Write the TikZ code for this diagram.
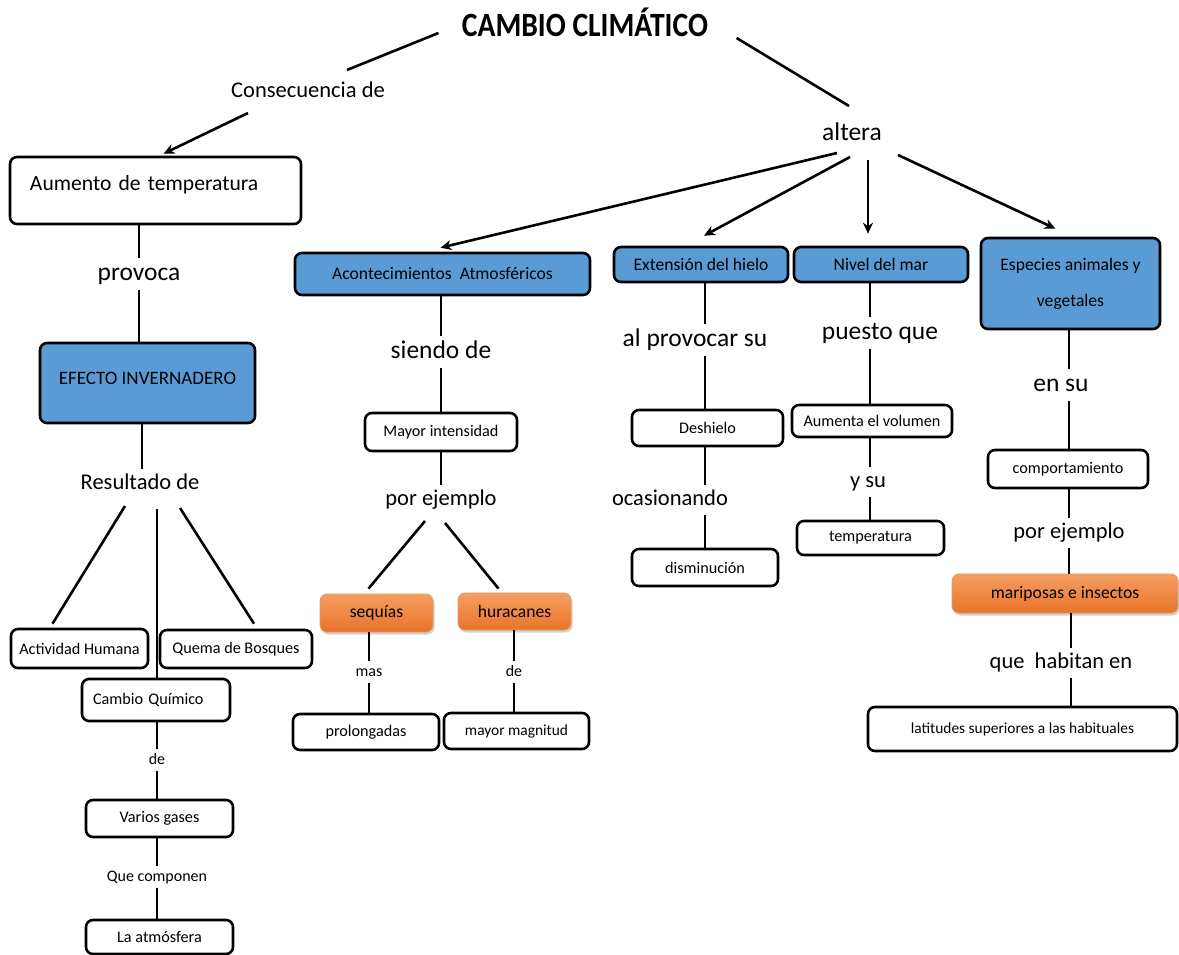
\documentclass[tikz,border=0pt]{standalone}
\usepackage{fontspec}
\setmainfont{Carlito}
\newfontfamily\titlefont{Carlito}[FakeStretch=0.87]
\usetikzlibrary{calc,shadows,arrows.meta}
\newcommand\fsz[1]{\fontsize{#1}{\dimexpr#1pt*6/5\relax}\selectfont}
\definecolor{cblue}{RGB}{91,155,213}
\definecolor{corT}{RGB}{245,158,98}
\definecolor{corB}{RGB}{232,116,40}
\definecolor{corL}{RGB}{240,150,95}
\tikzset{
  edge/.style={line width=2.6pt},
  arr/.style={edge, -{Stealth[length=11pt,width=10pt]}},
  wbox/.style={draw, line width=2.6pt, rounded corners=7pt, fill=white,
    inner sep=0pt, align=center, font=\fsz{16.2}},
  bbox/.style={wbox, fill=cblue, font=\fsz{17.6}},
  obox/.style={rounded corners=7pt, draw=corL, line width=0.8pt,
    top color=corT, bottom color=corB, inner sep=0pt, font=\fsz{17.6},
    drop shadow={shadow xshift=1.5pt, shadow yshift=-2.5pt, opacity=0.35}},
  lblA/.style={inner sep=4pt, text height=18.4pt, text depth=5.6pt, font=\fsz{25.5}},
  lblB/.style={inner sep=4pt, text height=16.2pt, text depth=5pt, font=\fsz{22.5}},
  lblC/.style={inner sep=3pt, text height=11.5pt, text depth=3.5pt, font=\fsz{16}},
}
\begin{document}
\begin{tikzpicture}[x=1pt, y=-1pt]
\useasboundingbox[fill=white] (0,0) rectangle (1179,955);

% ---- top ----
\node[font=\titlefont\bfseries\fsz{34}] (title) at (585,22) {CAMBIO CLIMÁTICO};
\node[lblB] (cons) at (308,92) {Consecuencia de};
\node[lblA] (alt) at (852,134) {altera};

% ---- left column: greenhouse effect ----
\node[wbox, font=\fsz{21.6}, minimum width=291pt, minimum height=67pt,
  text width=251pt, align=left, text depth=14pt] (aum) at (155.5,190.5) {Aumento de temperatura};
\node[lblA] (provoca) at (139,274) {provoca};
\node[bbox, font=\fsz{19}, minimum width=215pt, minimum height=80pt, text depth=10pt] (efe) at (147.5,383) {EFECTO INVERNADERO};
\node[lblB] (res) at (140,484) {Resultado de};
\node[wbox, minimum width=137pt, minimum height=39pt] (act) at (79.5,648.5) {Actividad Humana};
\node[wbox, minimum width=152pt, minimum height=38pt] (que) at (236,649) {Quema de Bosques};
\node[wbox, minimum width=148pt, minimum height=42pt, text width=126pt, align=left] (cq) at (156,700) {Cambio Químico};
\node[lblC] (de1) at (157,760) {de};
\node[wbox, minimum width=147pt, minimum height=37pt] (vg) at (159.5,818.5) {Varios gases};
\node[lblC] (qc) at (157,877) {Que componen};
\node[wbox, minimum width=147pt, minimum height=34pt] (atm) at (159.5,937) {La atmósfera};

% ---- atmospheric events ----
\node[bbox, minimum width=295pt, minimum height=42pt] (aco) at (442.5,274) {Acontecimientos\ \ Atmosféricos};
\node[lblA] (siendo) at (441,352) {siendo de};
\node[wbox, minimum width=152pt, minimum height=38pt] (may) at (441,432) {Mayor intensidad};
\node[lblB] (porej1) at (441,500) {por ejemplo};
\node[obox, minimum width=113pt, minimum height=38pt] (seq) at (376.5,613) {sequías};
\node[obox, minimum width=113pt, minimum height=37pt] (hur) at (514.5,611.5) {huracanes};
\node[lblC] (mas) at (369,672) {mas};
\node[lblC] (de2) at (514,672) {de};
\node[wbox, minimum width=146pt, minimum height=36pt] (pro) at (366,732) {prolongadas};
\node[wbox, minimum width=145pt, minimum height=36pt, font=\fsz{15.4}] (mag) at (516.5,731) {mayor magnitud};

% ---- ice ----
\node[bbox, minimum width=174pt, minimum height=35pt] (ext) at (701,264.5) {Extensión del hielo};
\node[lblA] (alprov) at (695,340) {al provocar su};
\node[wbox, minimum width=151pt, minimum height=36pt] (des) at (707.5,428) {Deshielo};
\node[lblB] (ocas) at (670,500) {ocasionando};
\node[wbox, minimum width=146pt, minimum height=37pt] (dis) at (705,567.5) {disminución};

% ---- sea level ----
\node[bbox, minimum width=174pt, minimum height=35pt] (niv) at (881,264.5) {Nivel del mar};
\node[lblA] (puesto) at (880,333) {puesto que};
\node[wbox, minimum width=160pt, minimum height=32pt] (vol) at (872,421) {Aumenta el volumen};
\node[lblB] (ysu) at (868,482) {y su};
\node[wbox, minimum width=147pt, minimum height=34pt] (tem) at (870.5,538) {temperatura};

% ---- species ----
\node[bbox, minimum width=179pt, minimum height=91pt] (esp) at (1070.5,283.5) {Especies animales y\\[15pt]vegetales};
\node[lblA] (ensu) at (1061,385) {en su};
\node[wbox, minimum width=160pt, minimum height=38pt] (com) at (1068,469) {comportamiento};
\node[lblB] (porej2) at (1069,533) {por ejemplo};
\node[obox, minimum width=226pt, minimum height=39pt] (mar) at (1065,593.5) {mariposas e insectos};
\node[lblB] (hab) at (1061,663) {que\ \ habitan en};
\node[wbox, minimum width=309pt, minimum height=44pt, font=\fsz{15.4}] (lat) at (1022.5,729) {latitudes superiores a las habituales};

% vertical guide positions of the connector lines
\coordinate (xa) at (139,0);
\coordinate (xr) at (142,0);
\coordinate (xc) at (157,0);
\coordinate (xm) at (441,0);
\coordinate (xs) at (369,0);
\coordinate (xh) at (514,0);
\coordinate (xe) at (705,0);
\coordinate (xn) at (870,0);
\coordinate (xp) at (1069,0);
\coordinate (xq) at (1071,0);

% ---- connectors ----
\draw[edge] ($(title.west)+(-20,11)$) -- ($(cons)+(39,-22)$);
\draw[edge] ($(title.east)+(25,16)$) -- ($(alt)+(-3,-28)$);
\draw[arr] ($(cons)+(-60,21)$) -- ($(aum.north)+(8,-2)$);

\draw[arr] ($(alt)+(-15,19)$) -- ($(aco.north)+(-2,-4)$);
\draw[arr] ($(alt)+(-2,23)$) -- ($(ext.north)+(3,-10)$);
\draw[arr] ($(alt)+(16,26)$) -- ($(niv.north)+(-13,-12)$);
\draw[arr] ($(alt)+(46,21)$) -- ($(esp.north)+(-15,-8)$);

\draw[edge] (aum.south -| xa) -- (provoca.north -| xa);
\draw[edge] (provoca.south -| xa) -- (efe.north -| xa);
\draw[edge] (efe.south -| xr) -- (res.north -| xr);
\draw[edge] ($(res)+(-15,22)$) -- ($(act.north)+(-27,-4)$);
\draw[edge] ($(res)+(17,25)$) -- (cq.north -| xc);
\draw[edge] ($(res)+(40,24)$) -- ($(que.north)+(18,-5)$);
\draw[edge] (cq.south -| xc) -- (de1.north -| xc);
\draw[edge] (de1.south -| xc) -- (vg.north -| xc);
\draw[edge] (vg.south -| xc) -- (qc.north -| xc);
\draw[edge] (qc.south -| xc) -- (atm.north -| xc);

\draw[edge] (aco.south -| xm) -- (siendo.north -| xm);
\draw[edge] (siendo.south -| xm) -- (may.north -| xm);
\draw[edge] (may.south -| xm) -- (porej1.north -| xm);
\draw[edge] ($(porej1)+(-16,21)$) -- ($(seq.north)+(-8,-5)$);
\draw[edge] ($(porej1)+(4,23)$) -- ($(hur.north)+(-16,-4)$);
\draw[edge] (seq.south -| xs) -- (mas.north -| xs);
\draw[edge] (mas.south -| xs) -- (pro.north -| xs);
\draw[edge] (hur.south -| xh) -- (de2.north -| xh);
\draw[edge] (de2.south -| xh) -- (mag.north -| xh);

\draw[edge] (ext.south -| xe) -- (alprov.north -| xe);
\draw[edge] (alprov.south -| xe) -- (des.north -| xe);
\draw[edge] (des.south -| xe) -- (ocas.north -| xe);
\draw[edge] (ocas.south -| xe) -- (dis.north -| xe);

\draw[edge] (niv.south -| xn) -- (puesto.north -| xn);
\draw[edge] (puesto.south -| xn) -- (vol.north -| xn);
\draw[edge] (vol.south -| xn) -- (ysu.north -| xn);
\draw[edge] (ysu.south -| xn) -- (tem.north -| xn);

\draw[edge] (esp.south -| xp) -- (ensu.north -| xp);
\draw[edge] (ensu.south -| xp) -- (com.north -| xp);
\draw[edge] (com.south -| xp) -- (porej2.north -| xp);
\draw[edge] (porej2.south -| xp) -- (mar.north -| xp);
\draw[edge] (mar.south -| xq) -- (hab.north -| xq);
\draw[edge] (hab.south -| xq) -- (lat.north -| xq);
\end{tikzpicture}
\end{document}
